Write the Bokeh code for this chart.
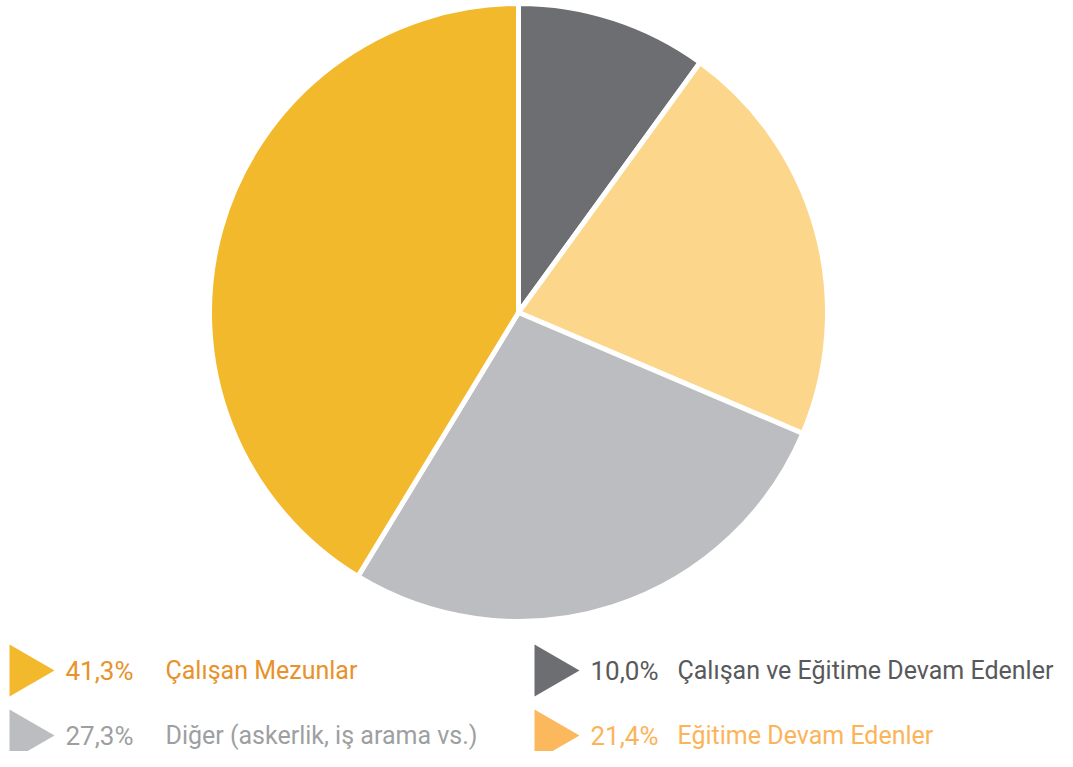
import math
from bokeh.plotting import figure
from bokeh.models import Range1d, ColumnDataSource
from bokeh.core.properties import value
from bokeh.embed import file_html
from bokeh.resources import INLINE

# ---- data (clockwise from 12 o'clock) ----
categories = ["Çalışan ve Eğitime Devam Edenler", "Eğitime Devam Edenler",
              "Diğer (askerlik, iş arama vs.)", "Çalışan Mezunlar"]
shares = [10.0, 21.4, 27.3, 41.3]
share_labels = ["10,0%", "21,4%", "27,3%", "41,3%"]
slice_colors = ["#6D6E71", "#FCD68A", "#BCBDC0", "#F3B92C"]
marker_colors = ["#6D6E71", "#FBB85D", "#BCBDC0", "#F3B92C"]
text_colors = ["#58595B", "#FBB45A", "#9D9FA2", "#E8922B"]

# legend order (left column then right column)
legend_order = [3, 2, 0, 1]

W, H = 1057, 751
p = figure(width=W, height=H, output_backend="svg", toolbar_location=None,
           x_range=Range1d(0, W), y_range=Range1d(767 - H, 767),
           min_border=0, outline_line_color=None)
p.axis.visible = False
p.grid.visible = False
p.background_fill_color = "white"
p.border_fill_color = "white"

# pie geometry in pixel coords (y measured upward: 767 - screen_y)
cx, cy, r = 518, 767 - 312, 309
total = sum(shares)
starts, ends = [], []
c = 0.0
for s in shares:
    c0 = c
    c1 = c + s / total
    starts.append(math.pi / 2 - 2 * math.pi * c1)
    ends.append(math.pi / 2 - 2 * math.pi * c0)
    c = c1

src = ColumnDataSource(dict(start=starts, end=ends, color=slice_colors))
p.wedge(x=cx, y=cy, radius=r, start_angle="start", end_angle="end",
        fill_color="color", line_color="white", line_width=5, source=src)

# legend
col_x = [24, 549]          # triangle centroid x
pct_x = [65, 590]
lab_x = [165, 677]
row_y = [767 - 670, 767 - 735]
lx, ly, tx, lbx, mc, tc, pl, cl = [], [], [], [], [], [], [], []
for k, idx in enumerate(legend_order):
    col, row = k // 2, k % 2
    lx.append(col_x[col]); ly.append(row_y[row])
    tx.append(pct_x[col]); lbx.append(lab_x[col])
    mc.append(marker_colors[idx]); tc.append(text_colors[idx])
    pl.append(share_labels[idx]); cl.append(categories[idx])

lsrc = ColumnDataSource(dict(x=lx, y=ly, tx=tx, lbx=lbx, mc=mc, tc=tc, pl=pl, cl=cl))
p.scatter(x="x", y="y", marker="triangle", size=52, angle=-math.pi / 2,
          fill_color="mc", line_color=None, source=lsrc)
p.text(x="tx", y="y", text="pl", text_color="tc", text_font=value("Roboto"),
       text_font_size="26px", text_baseline="middle", source=lsrc)
p.text(x="lbx", y="y", text="cl", text_color="tc", text_font=value("Roboto"),
       text_font_size="25px", text_baseline="middle", source=lsrc)

open("out.html", "w").write(file_html(p, INLINE))
